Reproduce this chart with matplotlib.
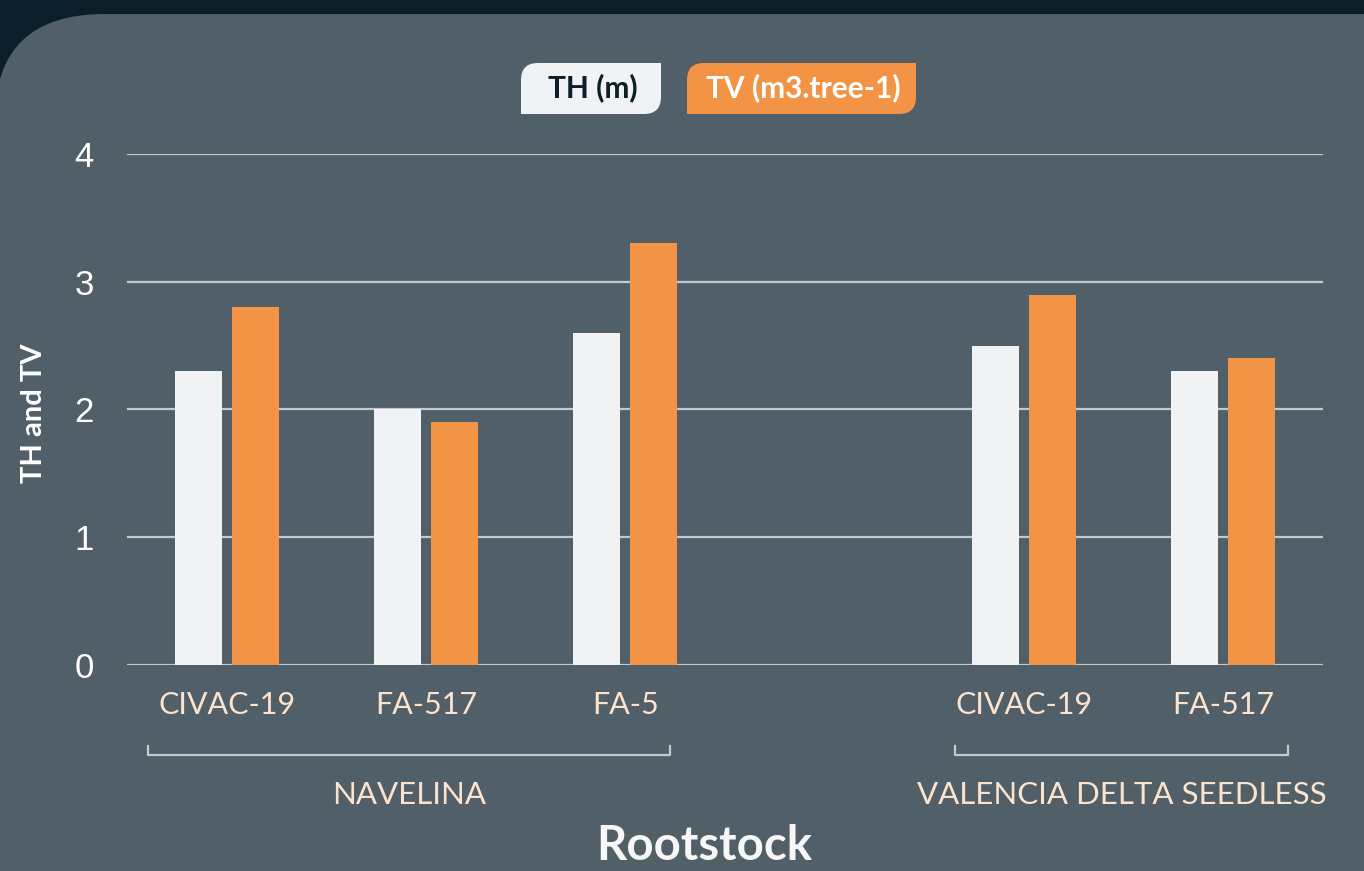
import numpy as np
import matplotlib.pyplot as plt
from matplotlib.path import Path
from matplotlib.patches import PathPatch

# Data
categories = ['CIVAC-19', 'FA-517', 'FA-5', '', 'CIVAC-19', 'FA-517']
th_values = [2.3, 2.0, 2.6, np.nan, 2.5, 2.3]
tv_values = [2.8, 1.9, 3.3, np.nan, 2.9, 2.4]
groups = ['NAVELINA', 'VALENCIA DELTA SEEDLESS']
group_spans = [(-0.395, 2.225), (3.653, 5.325)]
y_ticks = [0, 1, 2, 3, 4]

# Colours
navy = '#0B1F2A'
panel = '#505F68'
white_bar = '#F1F2F4'
orange = '#F29345'
grid_col = '#C3CACE'
peach = '#FBE3CE'

W, H = 1364, 871
fig = plt.figure(figsize=(W / 100, H / 100), dpi=100, facecolor=navy)


def to_in(x, y):
    # pixel coords (top origin) -> inches for dpi_scale_trans
    return x / 100, (H - y) / 100


def rounded_path(pts, codes, color):
    verts = [to_in(x, y) for x, y in pts]
    patch = PathPatch(Path(verts, codes), facecolor=color, edgecolor='none',
                      transform=fig.dpi_scale_trans)
    fig.add_artist(patch)
    return patch


M, L, C, Z = Path.MOVETO, Path.LINETO, Path.CURVE3, Path.CLOSEPOLY

# Background panel with rounded top-left corner
R = 105
top = 14
p = rounded_path([(-5, H + 5), (-5, top + R), (-5, top), (R, top), (W + 5, top),
                  (W + 5, H + 5), (-5, H + 5)],
                 [M, L, C, C, L, L, Z], panel)
p.set_zorder(-10)


def leaf_box(x0, y0, x1, y1, r, color):
    rounded_path([(x0, y1), (x0, y0 + r), (x0, y0), (x0 + r, y0), (x1, y0),
                  (x1, y1 - r), (x1, y1), (x1 - r, y1), (x0, y1)],
                 [M, L, C, C, L, L, C, C, Z], color)


# Axes
ax = fig.add_axes([127 / W, (H - 665) / H, (1323 - 127) / W, (665 - 154) / H])
ax.patch.set_visible(False)

x = np.arange(len(categories))
bar_w = 0.235
ax.bar(x - 0.143, th_values, width=bar_w, color=white_bar, zorder=3)
ax.bar(x + 0.143, tv_values, width=bar_w, color=orange, zorder=3)

ax.set_xlim(-0.5, len(categories) - 0.5)
ax.set_ylim(0, 4)
ax.set_yticks(y_ticks)
ax.set_yticklabels([str(v) for v in y_ticks], fontsize=25,
                   fontfamily='Liberation Sans', color='white')
ax.set_xticks(x)
ax.set_xticklabels(categories, fontsize=22, fontfamily='Lato', color=peach)
ax.tick_params(axis='y', length=0, pad=24)
ax.tick_params(axis='x', length=0, pad=19)
ax.yaxis.grid(True, color=grid_col, linewidth=1.6, zorder=0)
ax.set_axisbelow(True)
for s in ax.spines.values():
    s.set_visible(False)

# Group brackets and labels
trans = ax.get_xaxis_transform()
for name, (a, b) in zip(groups, group_spans):
    ax.plot([a, a, b, b], [-0.159, -0.177, -0.177, -0.159], color=grid_col,
            linewidth=1.6, transform=trans, clip_on=False)
    ax.text((a + b) / 2, -0.255, name, transform=trans, ha='center', va='center',
            fontsize=22.5, fontfamily='Lato', color=peach)

# Axis titles
fig.text(704 / W, 1 - 846 / H, 'Rootstock', ha='center', va='center',
         fontsize=34, fontweight='bold', fontfamily='Lato', color='#F7F7F7')
fig.text(34 / W, 1 - 413 / H, 'TH and TV', ha='center', va='center', rotation=90,
         fontsize=21, fontweight='bold', fontfamily='Lato', color='white')

# Legend boxes
leaf_box(521, 63, 661, 114, 17, white_bar)
fig.text(593 / W, 1 - 88 / H, 'TH (m)', ha='center', va='center', fontsize=21.5,
         fontweight='bold', fontfamily='Lato', color='#0B1F2A')
leaf_box(687, 63, 916, 114, 17, orange)
fig.text(803 / W, 1 - 88 / H, 'TV (m3.tree-1)', ha='center', va='center', fontsize=21.5,
         fontweight='bold', fontfamily='Lato', color='white')

fig.savefig('out.png', dpi=100, facecolor=navy)
